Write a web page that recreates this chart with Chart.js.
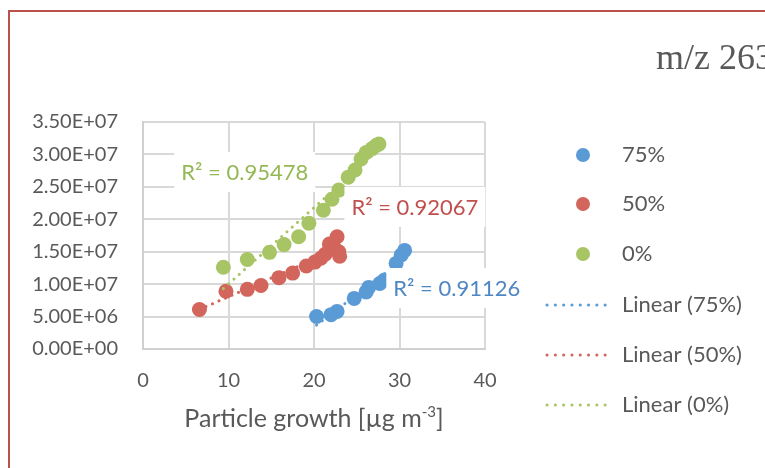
<!DOCTYPE html>
<html>
<head>
<meta charset="utf-8">
<script src="https://cdn.jsdelivr.net/npm/chart.js@4.4.1/dist/chart.umd.min.js"></script>
<style>
  html, body { margin: 0; padding: 0; background: #fff; overflow: hidden; }
  #wrap { position: relative; width: 765px; height: 468px; }
  #frame { position: absolute; left: 8px; top: 10px; width: 800px; height: 500px;
           border: 2px solid #b9524d; pointer-events: none; box-sizing: border-box; }
</style>
</head>
<body>
<div id="wrap">
  <canvas id="chart" width="765" height="468"></canvas>
  <div id="frame"></div>
</div>
<script>
// --- DATA ---
const seriesNames = ['75%', '50%', '0%'];
const xTicks = [0, 10, 20, 30, 40];
const yTicks = [0, 5e6, 1e7, 1.5e7, 2e7, 2.5e7, 3e7, 3.5e7];

const x75 = [20.3, 22.0, 22.7, 24.7, 26.1, 26.4, 27.7, 28.2, 29.6, 30.2, 30.6];
const y75 = [5.0e6, 5.3e6, 5.8e6, 7.8e6, 8.8e6, 9.5e6, 1.01e7, 1.06e7, 1.32e7, 1.45e7, 1.52e7];

const x50 = [6.6, 9.7, 12.2, 13.8, 15.9, 17.5, 19.1, 20.1, 20.8, 21.3, 21.8, 22.4, 22.7, 22.9, 23.0];
const y50 = [6.1e6, 8.9e6, 9.2e6, 9.8e6, 1.10e7, 1.17e7, 1.28e7, 1.34e7, 1.40e7, 1.46e7, 1.62e7, 1.55e7, 1.73e7, 1.50e7, 1.43e7];

const x0 = [9.4, 12.2, 14.8, 16.5, 18.2, 19.4, 21.1, 22.1, 22.9, 24.0, 24.8, 25.5, 26.1, 26.8, 27.3, 27.6];
const y0 = [1.26e7, 1.38e7, 1.49e7, 1.61e7, 1.73e7, 1.94e7, 2.14e7, 2.31e7, 2.45e7, 2.65e7, 2.76e7, 2.93e7, 3.03e7, 3.09e7, 3.14e7, 3.16e7];

const r2Labels = ['R² = 0.91126', 'R² = 0.92067', 'R² = 0.95478'];
// label anchor (centre) in data units
const r2AnchorX = [36.7, 31.8, 11.9];
const r2AnchorY = [9.4e6, 2.19e7, 2.73e7];

const pointColors = ['#5b9bd5', '#d2655c', '#a8c566'];
const textColors = ['#4f86c4', '#c0504d', '#94b853'];

// --- helpers ---
function toPoints(xs, ys) { return xs.map((x, i) => ({ x, y: ys[i] })); }

function fitLine(xs, ys) {
    const n = xs.length;
    const mx = xs.reduce((a, b) => a + b, 0) / n;
    const my = ys.reduce((a, b) => a + b, 0) / n;
    let sxy = 0, sxx = 0;
    xs.forEach((x, i) => { sxy += (x - mx) * (ys[i] - my); sxx += (x - mx) * (x - mx); });
    const b = sxy / sxx, a = my - b * mx;
    const lo = Math.min(...xs), hi = Math.max(...xs);
    return [{ x: lo, y: a + b * lo }, { x: hi, y: a + b * hi }];
}

function sci(v) {
    if (v === 0) return '0.00E+00';
    const e = Math.floor(Math.log10(v) + 1e-9);
    const m = v / Math.pow(10, e);
    return m.toFixed(2) + 'E+' + String(e).padStart(2, '0');
}

const allX = [x75, x50, x0];
const allY = [y75, y50, y0];

const datasets = [];
seriesNames.forEach((name, i) => {
    datasets.push({
        label: name,
        type: 'scatter',
        data: toPoints(allX[i], allY[i]),
        backgroundColor: pointColors[i],
        borderColor: pointColors[i],
        pointRadius: 7.5,
        pointBorderWidth: 0,
        order: 2
    });
});
seriesNames.forEach((name, i) => {
    datasets.push({
        label: 'Linear (' + name + ')',
        type: 'line',
        data: fitLine(allX[i], allY[i]),
        borderColor: pointColors[i],
        borderWidth: 3,
        borderDash: [0.1, 7],
        borderCapStyle: 'round',
        pointRadius: 0,
        fill: false,
        order: 1
    });
});

const FONT = 'Lato, "Open Sans", sans-serif';
const GREY = '#595959';

// --- overlay: R² labels, axis title, legend, chart title ---
const overlay = {
    id: 'overlay',
    afterDatasetsDraw(chart) {
        const { ctx, scales } = chart;
        ctx.save();
        ctx.font = '22px ' + FONT;
        ctx.textBaseline = 'middle';
        ctx.textAlign = 'center';
        r2Labels.forEach((t, i) => {
            const cx = scales.x.getPixelForValue(r2AnchorX[i]);
            const cy = scales.y.getPixelForValue(r2AnchorY[i]);
            const w = ctx.measureText(t).width + 14;
            ctx.fillStyle = '#fff';
            ctx.fillRect(cx - w / 2, cy - 20, w, 40);
            ctx.fillStyle = textColors[i];
            ctx.fillText(t, cx, cy + 1);
        });
        ctx.restore();
    },
    afterDraw(chart) {
        const { ctx, chartArea } = chart;
        ctx.save();
        // x axis title with superscript
        const main = 'Particle growth [µg m';
        const sup = '-3';
        const end = ']';
        ctx.fillStyle = GREY;
        ctx.textBaseline = 'alphabetic';
        ctx.textAlign = 'left';
        ctx.font = '25px ' + FONT;
        const w1 = ctx.measureText(main).width;
        const w3 = ctx.measureText(end).width;
        ctx.font = '15px ' + FONT;
        const w2 = ctx.measureText(sup).width;
        let x = (chartArea.left + chartArea.right) / 2 - (w1 + w2 + w3) / 2;
        const base = 427;
        ctx.font = '25px ' + FONT;
        ctx.fillText(main, x, base);
        ctx.font = '15px ' + FONT;
        ctx.fillText(sup, x + w1, base - 10);
        ctx.font = '25px ' + FONT;
        ctx.fillText(end, x + w1 + w2, base);

        // legend
        ctx.font = '22px ' + FONT;
        ctx.textBaseline = 'middle';
        const rows = [155, 204, 254, 305, 355, 405];
        chart.data.datasets.forEach((ds, i) => {
            const y = rows[i];
            if (i < 3) {
                ctx.fillStyle = ds.backgroundColor;
                ctx.beginPath();
                ctx.arc(583, y, 7, 0, Math.PI * 2);
                ctx.fill();
            } else {
                ctx.strokeStyle = ds.borderColor;
                ctx.lineWidth = 3;
                ctx.lineCap = 'round';
                ctx.setLineDash([0.1, 8.2]);
                ctx.beginPath();
                ctx.moveTo(547, y);
                ctx.lineTo(612, y);
                ctx.stroke();
                ctx.setLineDash([]);
            }
            ctx.fillStyle = GREY;
            ctx.fillText(ds.label, 622, y);
        });

        // chart title (cut off on the right, as in the picture)
        ctx.font = '36px "Liberation Serif", "DejaVu Serif", serif';
        ctx.fillStyle = GREY;
        ctx.textBaseline = 'alphabetic';
        ctx.fillText('m/z 263', 656, 69);
        ctx.restore();
    }
};

new Chart(document.getElementById('chart'), {
    data: { datasets },
    options: {
        responsive: false,
        animation: false,
        layout: { padding: { left: 0, top: 122, right: 280, bottom: 0 } },
        plugins: { legend: { display: false }, tooltip: { enabled: false } },
        scales: {
            x: {
                type: 'linear',
                min: xTicks[0],
                max: xTicks[xTicks.length - 1],
                afterBuildTicks: s => { s.ticks = xTicks.map(v => ({ value: v })); },
                afterFit: s => { s.height = 119; },
                grid: { color: '#d9d9d9', lineWidth: 2, drawTicks: false },
                border: { color: '#d0d0d0', width: 2 },
                ticks: { color: GREY, font: { family: FONT, size: 20 }, padding: 20 }
            },
            y: {
                type: 'linear',
                min: yTicks[0],
                max: yTicks[yTicks.length - 1],
                afterBuildTicks: s => { s.ticks = yTicks.map(v => ({ value: v })); },
                afterFit: s => { s.width = 143; },
                grid: { color: '#d9d9d9', lineWidth: 2, drawTicks: false },
                border: { color: '#d0d0d0', width: 2 },
                ticks: { color: GREY, font: { family: FONT, size: 20 }, padding: 25, callback: v => sci(v) }
            }
        }
    },
    plugins: [overlay]
});
</script>
</body>
</html>
